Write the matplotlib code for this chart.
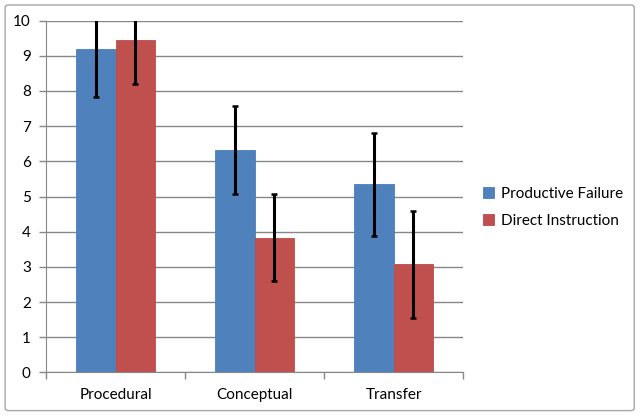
import numpy as np
import matplotlib.pyplot as plt
from matplotlib.patches import FancyBboxPatch

categories = ['Procedural', 'Conceptual', 'Transfer']
series_names = ['Productive Failure', 'Direct Instruction']
pf_means = [9.20, 6.32, 5.35]
di_means = [9.46, 3.83, 3.08]
pf_err = [1.37, 1.26, 1.46]
di_err = [1.27, 1.24, 1.52]
yticks = [0, 1, 2, 3, 4, 5, 6, 7, 8, 9, 10]

blue = '#4F81BD'
red = '#C0504D'

plt.rcParams['font.family'] = ['Lato', 'DejaVu Sans']

fig = plt.figure(figsize=(6.4, 4.16), dpi=100)
fig.patch.set_facecolor('white')

# excel chart frame
frame = FancyBboxPatch((0.008, 0.013), 0.983, 0.975, boxstyle='round,pad=0,rounding_size=0.006',
                       transform=fig.transFigure, facecolor='white', edgecolor='#A6A6A6',
                       linewidth=1.0, zorder=-5)
fig.patches.append(frame)

ax = fig.add_axes([0.0719, 0.1046, 0.6516, 0.846])
ax.set_facecolor('none')
ax.set_zorder(2)

x = np.arange(len(categories))
w = 0.2857
ax.bar(x - w / 2, pf_means, w, color=blue, edgecolor='#4A7EBB', linewidth=0.6,
       label=series_names[0], zorder=2)
ax.bar(x + w / 2, di_means, w, color=red, edgecolor='#BE4B48', linewidth=0.6,
       label=series_names[1], zorder=2)
ax.errorbar(x - w / 2, pf_means, yerr=pf_err, fmt='none', ecolor='black',
            elinewidth=2.2, capsize=2.5, capthick=1.8, zorder=3)
ax.errorbar(x + w / 2, di_means, yerr=di_err, fmt='none', ecolor='black',
            elinewidth=2.2, capsize=2.5, capthick=1.8, zorder=3)

ax.set_xlim(-0.5, 2.5)
ax.set_ylim(0, 10)
ax.set_yticks(yticks)
ax.yaxis.grid(True, color='#878787', linewidth=1.0, zorder=0)
ax.set_axisbelow(True)

ax.set_xticks(x)
ax.set_xticklabels(categories)
ax.tick_params(axis='x', length=0, pad=11, labelsize=11)
ax.set_xticks([-0.5, 0.5, 1.5, 2.5], minor=True)
ax.tick_params(axis='x', which='minor', length=5, color='#878787', width=1.0)
ax.tick_params(axis='y', length=5, color='#878787', width=1.0, labelsize=11, pad=6)

for s in ['top', 'right']:
    ax.spines[s].set_visible(False)
ax.spines['left'].set_color('#878787')
ax.spines['bottom'].set_color('#878787')

ax.legend(loc='center left', bbox_to_anchor=(1.048, 0.47), frameon=False,
          borderpad=0, borderaxespad=0,
          handlelength=0.7, handleheight=0.7, handletextpad=0.45,
          labelspacing=0.85, fontsize=11)

fig.savefig('out.png', dpi=100)
